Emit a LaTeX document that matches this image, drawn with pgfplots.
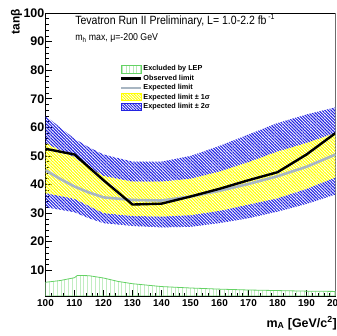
\documentclass[border=0pt]{standalone}
\usepackage{pgfplots}
\pgfplotsset{compat=1.18}
\usepackage{pgfplotstable}
\usepgfplotslibrary{fillbetween}
\usetikzlibrary{patterns.meta}
\usepackage{fontspec}
\setmainfont{Liberation Sans}
\usepackage{graphicx}

\definecolor{hblue}{RGB}{35,35,225}
\definecolor{hyellow}{RGB}{255,255,0}
\definecolor{expgray}{RGB}{168,182,194}
\definecolor{lepgreen}{RGB}{100,210,100}

\pgfplotstableread{
x   bt   yt   ex   yb   bb
100 64.0 54.5 45.0 37.0 32.0
105 60.0 52.0 42.0 36.0 31.2
110 56.0 49.5 39.3 35.0 30.3
115 53.0 46.0 37.2 32.5 28.2
120 50.5 43.0 35.5 30.0 26.5
130 48.0 41.0 34.6 29.0 25.5
140 48.0 41.0 34.4 28.8 25.0
150 50.0 42.0 35.8 29.3 25.2
160 53.5 44.5 37.8 30.8 26.5
170 57.5 47.8 40.2 33.0 28.2
180 61.5 51.5 42.9 35.2 30.5
190 64.5 54.5 46.2 38.5 33.2
200 67.0 58.0 50.5 42.5 36.5
}\bands

\pgfplotstableread{
x   y
100 52.5
110 50.5
120 41.5
130 33.0
140 33.3
150 35.8
160 38.5
170 41.5
180 44.3
190 50.5
200 58.0
}\observed

\pgfplotstableread{
x   y
100 5.8
105 6.4
108 7.0
110 7.4
111 8.2
115 8.1
120 7.3
125 6.1
130 5.3
140 4.3
150 3.8
160 3.4
170 3.1
180 2.9
190 2.7
200 2.6
}\lep

\pgfplotsset{
  leplegend/.style={legend image code/.code={\draw[lepgreen, line width=0.6bp, pattern={Lines[angle=90,distance=3.5bp,line width=0.4bp]}, pattern color=lepgreen!45] (0bp,-4bp) rectangle (20bp,4bp);}},
  obslegend/.style={legend image code/.code={\draw[black, line width=2.2bp] (0bp,0bp) -- (20bp,0bp);}},
  explegend/.style={legend image code/.code={\draw[expgray, line width=2.2bp] (0bp,0bp) -- (20bp,0bp);}},
  onelegend/.style={legend image code/.code={\draw[hyellow, line width=0.6bp, pattern={Lines[angle=-45,distance=2bp,line width=1bp]}, pattern color=hyellow] (0bp,-3.5bp) rectangle (20bp,3.5bp);}},
  twolegend/.style={legend image code/.code={\draw[hblue, line width=0.6bp, pattern={Lines[angle=-45,distance=2bp,line width=1bp]}, pattern color=hblue] (0bp,-3.5bp) rectangle (20bp,3.5bp);}},
}

\begin{document}
\begin{tikzpicture}
\begin{axis}[
  scale only axis, width=290bp, height=283bp,
  xmin=100, xmax=200, ymin=1, ymax=100,
  xtick={100,110,...,200}, ytick={10,20,...,100},
  minor x tick num=4, minor y tick num=4,
  tick align=inside, xtick pos=bottom, ytick pos=left,
  major tick length=6bp, minor tick length=3bp,
  tick style={black, line width=0.6bp},
  axis line style={black, line width=0.7bp},
  /pgf/number format/assume math mode=true,
  yticklabel style={font=\fontsize{12.5}{13}\selectfont\bfseries, inner sep=1bp},
  xticklabel style={font=\fontsize{10}{11}\selectfont\bfseries, inner sep=1bp, yshift=-2bp},
  xlabel={m\textsubscript{A} [GeV/c\textsuperscript{2}]},
  xlabel style={at={([xshift=1.5bp,yshift=-31bp]rel axis cs:1,0)}, anchor=base east, inner sep=0pt, font=\fontsize{12.5}{14}\selectfont\bfseries},
  ylabel={tanβ},
  ylabel style={at={([xshift=-26bp,yshift=4.4bp]rel axis cs:0,1)}, anchor=base east, inner sep=0pt, font=\fontsize{12}{14}\selectfont\bfseries},
  legend style={at={(rel axis cs:0.257,0.818)}, anchor=north west, draw=none, fill=none,
    font=\fontsize{7.3}{7.5}\selectfont\bfseries, row sep=0.6bp, inner sep=0pt,
    nodes={inner sep=1bp}},
  legend cell align=left,
]
% LEP excluded
\addplot[draw=lepgreen, line width=0.8bp, pattern={Lines[angle=90,distance=3.8bp,line width=0.4bp]}, pattern color=lepgreen!40, forget plot] table[x=x,y=y]{\lep} \closedcycle;

% band edges
\addplot[name path=bt, draw=none, forget plot] table[x=x,y=bt]{\bands};
\addplot[name path=yt, draw=none, forget plot] table[x=x,y=yt]{\bands};
\addplot[name path=yb, draw=none, forget plot] table[x=x,y=yb]{\bands};
\addplot[name path=bb, draw=none, forget plot] table[x=x,y=bb]{\bands};
\addplot[draw=none, pattern={Lines[angle=-45,distance=2.2bp,line width=1.1bp]}, pattern color=hblue, forget plot] fill between[of=bt and yt];
\addplot[draw=none, pattern={Lines[angle=-45,distance=2.2bp,line width=1.1bp]}, pattern color=hblue, forget plot] fill between[of=yb and bb];
\addplot[draw=none, pattern={Lines[angle=-45,distance=2.2bp,line width=1.1bp]}, pattern color=hyellow, forget plot] fill between[of=yt and yb];

\addplot[expgray, line width=2.6bp, forget plot] table[x=x,y=ex]{\bands};
\addplot[black, line width=2.4bp, forget plot] table[x=x,y=y]{\observed};

% legend
\addlegendimage{leplegend}
\addlegendentry{Excluded by LEP\rule[-2.5bp]{0pt}{2.5bp}}
\addlegendimage{obslegend}
\addlegendentry{Observed limit}
\addlegendimage{explegend}
\addlegendentry{Expected limit}
\addlegendimage{onelegend}
\addlegendentry{Expected limit ± 1σ}
\addlegendimage{twolegend}
\addlegendentry{Expected limit ± 2σ}

\draw[gray!70, line width=1bp] (rel axis cs:1,0) -- (rel axis cs:1,1);
\node[anchor=base west, inner sep=0pt] at (rel axis cs:0.102,0.961) {\scalebox{0.88}[1]{\fontsize{12}{14}\selectfont Tevatron Run II Preliminary, L= 1.0-2.2 fb\,\textsuperscript{-1}}};
\node[anchor=base west, inner sep=0pt] at (rel axis cs:0.102,0.903) {\scalebox{0.88}[1]{\fontsize{10}{12}\selectfont m\textsubscript{h} max, μ=-200 GeV}};
\end{axis}
\pgfresetboundingbox
\path (-45.5bp,-40bp) rectangle (291.5bp,296bp);
\end{tikzpicture}
\end{document}
